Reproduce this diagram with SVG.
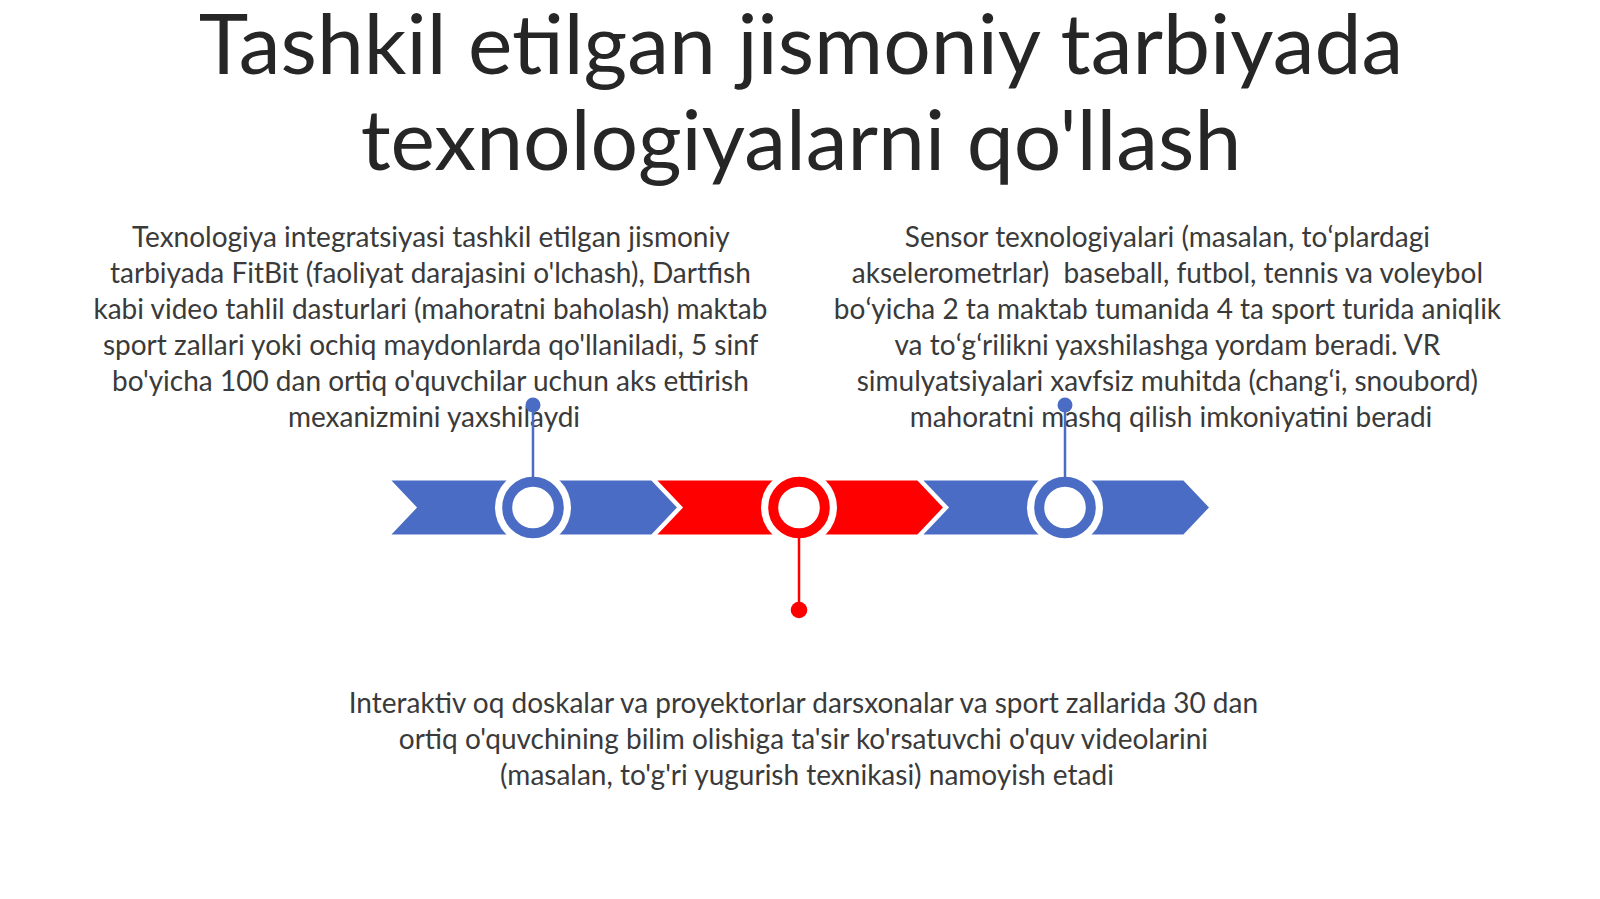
<svg xmlns="http://www.w3.org/2000/svg" width="1600" height="899" viewBox="0 0 1600 899">
<style>
.title{font-family:Lato,"Liberation Sans",sans-serif;font-size:84px;fill:#262626;text-anchor:middle}
.body{font-family:Lato,"Liberation Sans",sans-serif;font-size:28px;fill:#3a3a3a;text-anchor:middle}
.chev{stroke:#fff;stroke-width:3;stroke-linejoin:miter}
.blue{fill:#4A6CC4}
.red{fill:#FF0000}
.halo{fill:#fff}
.ringb{fill:#fff;stroke:#4A6CC4;stroke-width:10}
.ringr{fill:#fff;stroke:#FF0000;stroke-width:10}
.stemb{stroke:#4A6CC4;stroke-width:2.5}
.stemr{stroke:#FF0000;stroke-width:2.5}
</style>
<rect width="1600" height="899" fill="#fff"/>
<g id="title">
<text class="title" x="801" y="74">Tashkil etilgan jismoniy tarbiyada</text>
<text class="title" x="801" y="170">texnologiyalarni qo'llash</text>
</g>
<g id="text-left">
<text class="body" x="434" y="247">
<tspan x="434" y="247">Texnologiya integratsiyasi tashkil etilgan jismoniy</tspan>
<tspan x="434" y="283">tarbiyada FitBit (faoliyat darajasini o'lchash), Dartfish</tspan>
<tspan x="434" y="319">kabi video tahlil dasturlari (mahoratni baholash) maktab</tspan>
<tspan x="434" y="355">sport zallari yoki ochiq maydonlarda qo'llaniladi, 5 sinf</tspan>
<tspan x="434" y="391">bo'yicha 100 dan ortiq o'quvchilar uchun aks ettirish</tspan>
<tspan x="434" y="427">mexanizmini yaxshilaydi</tspan>
</text>
</g>
<g id="text-right">
<text class="body" x="1171" y="247">
<tspan x="1171" y="247">Sensor texnologiyalari (masalan, toʻplardagi</tspan>
<tspan x="1171" y="283">akselerometrlar)&#160; baseball, futbol, tennis va voleybol</tspan>
<tspan x="1171" y="319">boʻyicha 2 ta maktab tumanida 4 ta sport turida aniqlik</tspan>
<tspan x="1171" y="355">va toʻgʻrilikni yaxshilashga yordam beradi. VR</tspan>
<tspan x="1171" y="391">simulyatsiyalari xavfsiz muhitda (changʻi, snoubord)</tspan>
<tspan x="1171" y="427">mahoratni mashq qilish imkoniyatini beradi</tspan>
</text>
</g>
<g id="text-bottom">
<text class="body" x="807" y="713">
<tspan x="807" y="713">Interaktiv oq doskalar va proyektorlar darsxonalar va sport zallarida 30 dan</tspan>
<tspan x="807" y="749">ortiq o'quvchining bilim olishiga ta'sir ko'rsatuvchi o'quv videolarini</tspan>
<tspan x="807" y="785">(masalan, to'g'ri yugurish texnikasi) namoyish etadi</tspan>
</text>
</g>
<g id="timeline">
<polygon id="chevron-1" class="chev blue" points="388,479 652,479 679,507.5 652,536 388,536 415,507.5"/>
<polygon id="chevron-2" class="chev red" points="654,479 918,479 945,507.5 918,536 654,536 681,507.5"/>
<polygon id="chevron-3" class="chev blue" points="920,479 1184,479 1211,507.5 1184,536 920,536 947,507.5"/>
</g>
<g id="node-1">
<circle class="halo" cx="533" cy="507.5" r="38"/>
<circle class="ringb" cx="533" cy="507.5" r="25.8"/>
<circle class="blue" cx="533" cy="405" r="7.5"/>
</g>
<g id="node-2">
<circle class="halo" cx="799" cy="507.5" r="38"/>
<circle class="ringr" cx="799" cy="507.5" r="25.8"/>
<circle class="red" cx="799" cy="610" r="8.3"/>
</g>
<g id="node-3">
<circle class="halo" cx="1065" cy="507.5" r="38"/>
<circle class="ringb" cx="1065" cy="507.5" r="25.8"/>
<circle class="blue" cx="1065" cy="405" r="7.5"/>
</g>
<g id="connectors">
<line class="stemb" x1="533" y1="410" x2="533" y2="478"/>
<line class="stemr" x1="799" y1="537" x2="799" y2="605"/>
<line class="stemb" x1="1065" y1="410" x2="1065" y2="478"/>
</g>
</svg>
